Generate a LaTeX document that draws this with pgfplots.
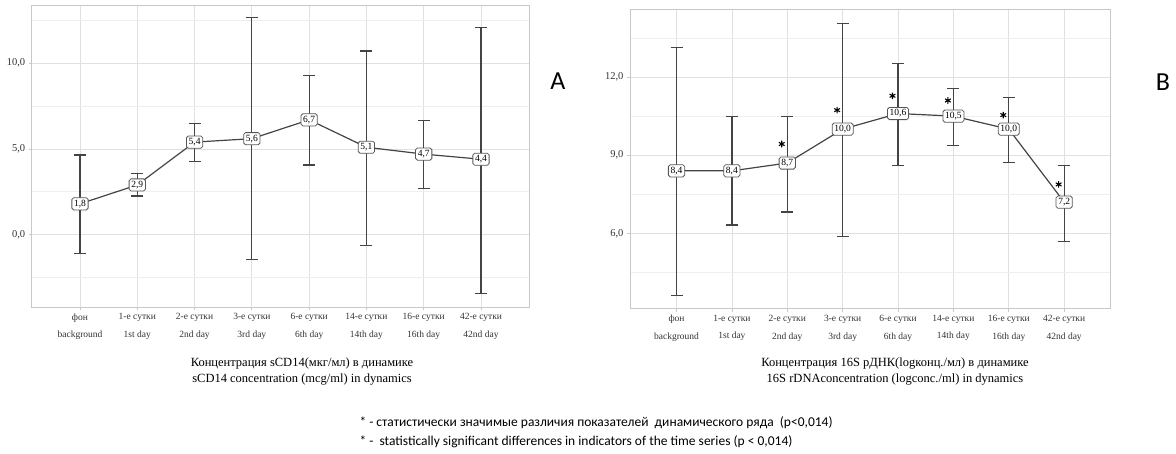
\documentclass[border=0pt]{standalone}
\usepackage{fontspec}
\setmainfont{Liberation Serif}
\newfontfamily\carlito{Carlito}
\usepackage{pgfplots}
\pgfplotsset{compat=1.18}
\usepackage{pgfplotstable}

\definecolor{gridmaj}{HTML}{E0E0E0}
\definecolor{gridmin}{HTML}{EFEFEF}
\definecolor{framec}{HTML}{C8C8C8}
\definecolor{linec}{HTML}{444444}
\definecolor{textc}{HTML}{333333}

% sCD14: mean, upper and lower ends of the bars
\pgfplotstableread{
x y hi lo
0 1.8 4.65 -1.11
1 2.9 3.59 2.25
2 5.4 6.50 4.26
3 5.6 12.66 -1.46
4 6.7 9.28 4.06
5 5.1 10.72 -0.61
6 4.7 6.68 2.71
7 4.4 12.07 -3.42
}\dataA

% 16S rDNA
\pgfplotstableread{
x y hi lo
0 8.4 13.12 3.62
1 8.4 10.50 6.32
2 8.7 10.50 6.82
3 10.0 14.07 5.87
4 10.6 12.52 8.62
5 10.5 11.55 9.36
6 10.0 11.20 8.72
7 7.2 8.62 5.69
}\dataB

\pgfplotsset{
  myaxis/.style={
    scale only axis,
    axis line style={framec, line width=0.9pt},
    grid=both,
    major grid style={gridmaj, line width=0.8pt},
    minor grid style={gridmin, line width=0.8pt},
    xtick={0,...,7},
    xticklabels={{фон\\background},{1-е сутки\\1st day},{2-е сутки\\2nd day},{3-е сутки\\3rd day},{6-е сутки\\6th day},{14-е сутки\\14th day},{16-е сутки\\16th day},{42-е сутки\\42nd day}},
    xticklabel style={align=center, font=\fontsize{9.5}{17.5}\selectfont, text=textc},
    yticklabel style={font=\fontsize{10.5}{12}\selectfont, text=textc},
    tick pos=left, tick align=outside,
    major tick length=3pt, minor tick length=0pt,
    tick style={framec, line width=0.8pt},
    /pgf/number format/use comma,
    /pgf/number format/fixed,
    /pgf/number format/fixed zerofill,
    /pgf/number format/precision=1,
    /pgf/number format/assume math mode=true,
  },
  meanplot/.style={
    linec, line width=1.2pt, mark=none,
    nodes near coords, point meta=y,
    every node near coord/.append style={anchor=center, draw=linec!90, fill=white,
      rounded corners=1.8pt, inner sep=2.2pt, line width=0.8pt, text=black,
      font=\fontsize{9.5}{11}\selectfont},
    error bars/.cd, y dir=both, y explicit,
    error bar style={linec, line width=1.2pt},
    error mark options={linec, rotate=90, mark size=6pt, line width=1.2pt},
  },
}

\begin{document}
\begin{tikzpicture}
\useasboundingbox (0,0) rectangle (1176pt,454pt);

\begin{axis}[myaxis,
  at={(31.7pt,147pt)}, anchor=south west,
  width=498pt, height=302pt,
  xmin=-0.843, xmax=7.85, ymin=-4.22, ymax=13.4,
  ytick={0,5,10}, minor ytick={-2.5,2.5,7.5,12.5}]
\addplot[meanplot] table[x=x, y=y,
  y error plus expr=\thisrow{hi}-\thisrow{y},
  y error minus expr=\thisrow{y}-\thisrow{lo}] {\dataA};
\end{axis}

\begin{axis}[myaxis,
  at={(630pt,145.3pt)}, anchor=south west,
  width=480.7pt, height=299.4pt,
  xmin=-0.84, xmax=7.84, ymin=3.11, ymax=14.6,
  ytick={6,9,12}, minor ytick={4.5,7.5,10.5,13.5}]
\addplot[meanplot] table[x=x, y=y,
  y error plus expr=\thisrow{hi}-\thisrow{y},
  y error minus expr=\thisrow{y}-\thisrow{lo}] {\dataB};
\addplot[only marks, mark=asterisk, mark size=3.3pt, black, line width=1.1pt]
  coordinates {(1.9,9.43) (2.9,10.73) (3.9,11.28) (4.9,11.1) (5.9,10.54) (6.9,7.88)};
\end{axis}

\node[font=\fontsize{12.5}{16}\selectfont, align=center, text=black] at (302pt,82pt)
  {Концентрация sCD14(мкг/мл) в динамике\\sCD14 concentration (mcg/ml) in dynamics};
\node[font=\fontsize{12.5}{16}\selectfont, align=center, text=black] at (895pt,82pt)
  {Концентрация 16S рДНК(logконц./мл) в динамике\\16S rDNAconcentration (logconc./ml) in dynamics};

\node[font=\carlito\fontsize{26}{30}\selectfont] at (558pt,373pt) {A};
\node[font=\carlito\fontsize{26}{30}\selectfont] at (1163pt,372pt) {B};

\node[anchor=west, font=\carlito\fontsize{13.5}{15}\selectfont] at (356pt,31pt)
  {* - статистически значимые различия показателей\ \ динамического ряда\ \ (p<0,014)};
\node[anchor=west, font=\carlito\fontsize{13.5}{15}\selectfont] at (356pt,12pt)
  {* -\ \ statistically significant differences in indicators of the time series (p < 0,014)};
\end{tikzpicture}
\end{document}
